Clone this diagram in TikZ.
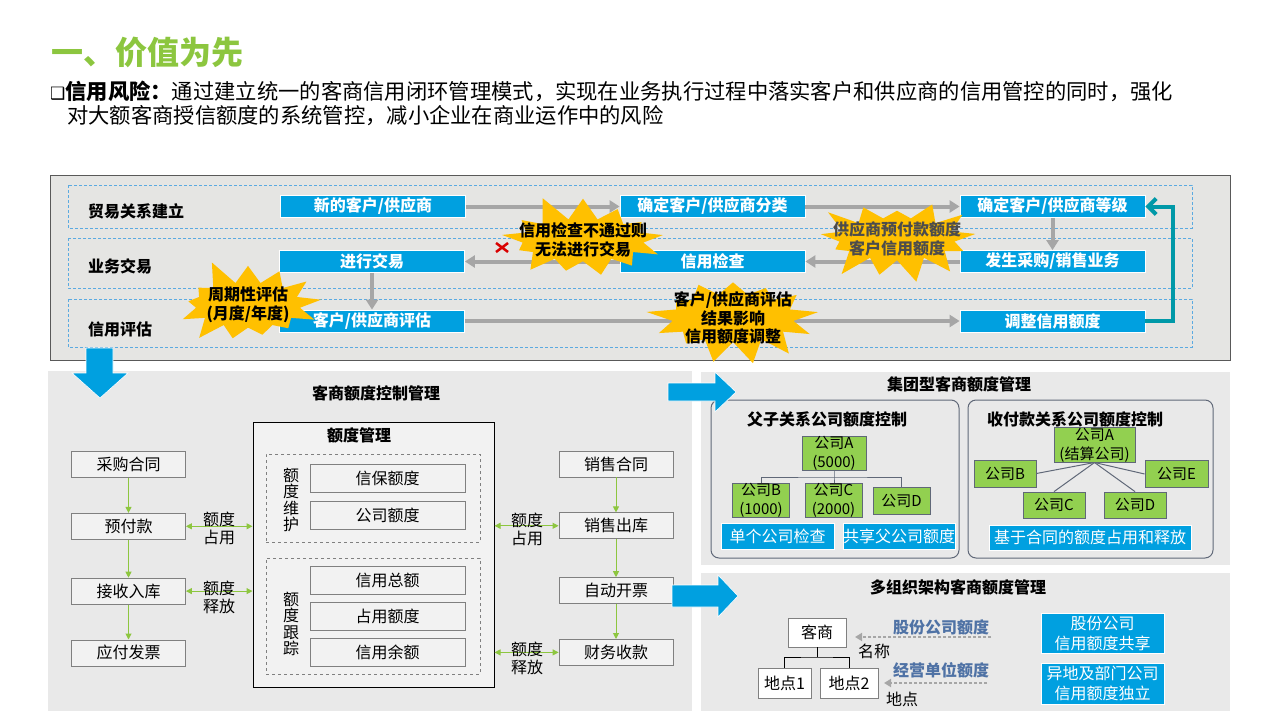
\documentclass[tikz,border=0pt]{standalone}
\usepackage{fontspec}
\setmainfont{Noto Sans CJK SC}
\newfontfamily\symfont{DejaVu Sans}
\usepackage{xcolor}
\usetikzlibrary{shapes.symbols, arrows.meta, positioning, calc}
\definecolor{cblue}{RGB}{0,160,224}
\definecolor{panelgray}{RGB}{229,229,227}
\definecolor{panelline}{RGB}{89,89,89}
\definecolor{softgray}{RGB}{233,233,233}
\definecolor{boxgray}{RGB}{242,242,242}
\definecolor{burstyellow}{RGB}{255,192,0}
\definecolor{leafgreen}{RGB}{146,208,80}
\definecolor{titlegreen}{RGB}{140,198,63}
\definecolor{arrowgray}{RGB}{166,166,166}
\definecolor{tealarrow}{RGB}{0,153,168}
\definecolor{lanedash}{RGB}{91,170,225}
\definecolor{labelblue}{RGB}{79,114,165}
\definecolor{linkgreen}{RGB}{141,198,63}
\definecolor{framegray}{RGB}{96,104,120}

\begin{document}
\begin{tikzpicture}[x=1pt, y=-1pt, node distance=35pt, font=\fontsize{16}{19}\selectfont]
\tikzstyle{flowbox} = [rectangle, fill=cblue, draw=white, line width=0.8pt, text=white, font=\fontsize{16}{19}\selectfont\bfseries, minimum width=185pt, minimum height=22pt, inner sep=0pt]
\tikzstyle{flow} = [draw=arrowgray, line width=4pt, -{Triangle[length=10pt,width=12pt]}]
\tikzstyle{feedback} = [draw=tealarrow, line width=4pt, line join=miter, -{Straight Barb[length=8pt,width=16pt]}]
\tikzstyle{burstnote} = [starburst, starburst points=13, starburst point height=27pt, fill=burstyellow, draw=none]
\tikzstyle{bursttext} = [align=center, inner sep=0pt, font=\fontsize{16}{18.5}\selectfont\bfseries]
\tikzstyle{lane} = [draw=lanedash, line width=0.8pt, dash pattern=on 3pt off 2pt]
\tikzstyle{lanename} = [anchor=west, inner sep=0pt, font=\fontsize{16}{19}\selectfont\bfseries]
\tikzstyle{docbox} = [rectangle, fill=boxgray, draw=gray, line width=0.8pt, minimum width=114pt, minimum height=26pt, inner sep=0pt]
\tikzstyle{quotabox} = [rectangle, fill=boxgray, draw=gray, line width=0.8pt, minimum width=155pt, minimum height=28pt, inner sep=0pt]
\tikzstyle{link} = [draw=linkgreen, line width=1pt, -{Triangle[length=6pt,width=6pt]}]
\tikzstyle{duallink} = [draw=linkgreen, line width=1pt, {Triangle[length=6pt,width=6pt]}-{Triangle[length=6pt,width=6pt]}]
\tikzstyle{sidelabel} = [align=center, inner sep=0pt, font=\fontsize{16}{18}\selectfont]
\tikzstyle{company} = [rectangle, fill=leafgreen, draw=framegray, line width=0.8pt, minimum height=27pt, inner sep=0pt, align=center, font=\fontsize{15}{19}\selectfont]
\tikzstyle{tagbox} = [rectangle, fill=cblue, draw=white, line width=0.8pt, text=white, inner sep=0pt, align=center, font=\fontsize{16}{20}\selectfont]
\tikzstyle{tree} = [draw=framegray, line width=1pt]
\tikzstyle{hint} = [draw=arrowgray, line width=2pt, dash pattern=on 3pt off 2pt, -{Triangle[length=7pt,width=8pt]}]
\tikzstyle{bigarrow} = [fill=cblue, draw=white, line width=0.6pt]

\useasboundingbox (0,0) rectangle (1280,720);

% heading
\node (title) [anchor=west, inner sep=0pt, text=titlegreen, font=\fontsize{32}{38}\selectfont\bfseries] at (51,52) {一、价值为先};
\node (intro1) [anchor=west, inner sep=0pt, font=\fontsize{21.3}{25}\selectfont] at (50,91) {{\symfont\fontsize{17}{20}\selectfont ❑}\textbf{信用风险：}通过建立统一的客商信用闭环管理模式，实现在业务执行过程中落实客户和供应商的信用管控的同时，强化};
\node (intro2) [anchor=west, inner sep=0pt, font=\fontsize{21.3}{25}\selectfont] at (67,116) {对大额客商授信额度的系统管控，减小企业在商业运作中的风险};

% credit loop panel
\draw [fill=panelgray, draw=panelline, line width=1pt] (50,175) rectangle (1230,360);
\draw [lane] (68,185) rectangle (1192,228);
\draw [lane] (68,238) rectangle (1192,288);
\draw [lane] (68,299) rectangle (1192,347);
\node (lane1) [lanename] at (88,211) {贸易关系建立};
\node (lane2) [lanename] at (88,266) {业务交易};
\node (lane3) [lanename] at (88,329) {信用评估};

\node (newcs) [flowbox] at (373,206.5) {新的客户/供应商};
\node (classify) [flowbox] at (712.5,206.5) {确定客户/供应商分类};
\node (grade) [flowbox] at (1052.5,206.5) {确定客户/供应商等级};
\node (trade) [flowbox] at (372,261.5) {进行交易};
\node (check) [flowbox] at (712.5,261.5) {信用检查};
\node (business) [flowbox] at (1052.5,261.5) {发生采购/销售业务};
\node (evaluate) [flowbox] at (372,321) {客户/供应商评估};
\node (adjust) [flowbox] at (1052.5,321) {调整信用额度};

\draw [flow] (newcs) -- (classify);
\draw [flow] (classify) -- (grade);
\draw [flow] (grade) -- (business);
\draw [flow] (business) -- (check);
\draw [flow] (check) -- (trade);
\draw [flow] (trade) -- (evaluate);
\draw [flow] (evaluate) -- (adjust);
\draw [feedback] (adjust.east) -- ++(28,0) |- (grade.east);

\node (blocked) [burstnote, random starburst=11, inner xsep=43pt, inner ysep=15pt,
  label={[bursttext]center:信用检查不通过则\\无法进行交易}] at (583,240) {};
\node (limits) [burstnote, random starburst=23, inner xsep=41pt, inner ysep=15pt,
  label={[bursttext, text=black!70]center:供应商预付款额度\\客户信用额度}] at (897,239) {};
\node (period) [burstnote, random starburst=5, inner xsep=37pt, inner ysep=16pt,
  label={[bursttext]center:周期性评估\\(月度/年度)}] at (248,305) {};
\node (effect) [burstnote, random starburst=42, inner xsep=43pt, inner ysep=17pt,
  label={[bursttext]center:客户/供应商评估\\结果影响\\信用额度调整}] at (733,318) {};
\draw [red!85!black, line width=2.5pt] (496,243) -- (508,252) (496,252) -- (508,243);

% quota control panel
\fill [softgray] (48,371) rectangle (692,711);
\draw [bigarrow] (86,348) -- (113,348) -- (113,373) -- (128,373) -- (100,398) -- (72,373) -- (86,373) -- cycle;
\node (ctrltitle) [font=\fontsize{16}{19}\selectfont\bfseries] at (376,393) {客商额度控制管理};

\node (purchase) [docbox] at (128.5,464.5) {采购合同};
\node (prepay) [docbox, below=35pt of purchase] {预付款};
\node (receive) [docbox, below=38pt of prepay] {接收入库};
\node (payinv) [docbox, below=35pt of receive] {应付发票};
\node (salecon) [docbox] at (616,464) {销售合同};
\node (shipout) [docbox, below=35pt of salecon] {销售出库};
\node (invoice) [docbox, below=38pt of shipout] {自动开票};
\node (collect) [docbox, below=35pt of invoice] {财务收款};

\node (quota) [rectangle, fill=boxgray, draw=black, line width=1pt, minimum width=241pt, minimum height=265pt] at (373.5,554.5) {};
\node (quotatitle) [font=\fontsize{16}{19}\selectfont\bfseries] at (359,435) {额度管理};
\node (maintain) [rectangle, draw=gray, dashed, minimum width=214pt, minimum height=88pt] at (373,498) {};
\node (track) [rectangle, draw=gray, dashed, minimum width=214pt, minimum height=116pt] at (373,616) {};
\node (maintainname) [align=center, inner sep=0pt, font=\fontsize{16}{16.5}\selectfont] at (291,500) {额\\度\\维\\护};
\node (trackname) [align=center, inner sep=0pt, font=\fontsize{16}{16.5}\selectfont] at (291,624) {额\\度\\跟\\踪};
\node (guarantee) [quotabox] at (387.5,478.5) {信保额度};
\node (companyq) [quotabox] at (387.5,515) {公司额度};
\node (total) [quotabox] at (387.5,580) {信用总额};
\node (occupied) [quotabox] at (387.5,616.5) {占用额度};
\node (balance) [quotabox] at (387.5,652.5) {信用余额};

\draw [link] (purchase) -- (prepay);
\draw [link] (prepay) -- (receive);
\draw [link] (receive) -- (payinv);
\draw [link] (salecon) -- (shipout);
\draw [link] (shipout) -- (invoice);
\draw [link] (invoice) -- (collect);
\draw [duallink] (prepay.east) -- (quota.west |- prepay.east);
\draw [duallink] (receive.east) -- (quota.west |- receive.east);
\draw [duallink] (quota.east |- shipout.west) -- (shipout.west);
\draw [duallink] (quota.east |- collect.west) -- (collect.west);
\node (takeL) [sidelabel] at (219,528) {额度\\占用};
\node (freeL) [sidelabel] at (219,597) {额度\\释放};
\node (takeR) [sidelabel] at (527,529) {额度\\占用};
\node (freeR) [sidelabel] at (527,658) {额度\\释放};

% group panel
\fill [softgray] (701,372) rectangle (1230,565);
\node (grouptitle) [font=\fontsize{16}{19}\selectfont\bfseries] at (959,384) {集团型客商额度管理};
\draw [framegray, line width=1pt, rounded corners=8pt] (711,400) rectangle (959,558);
\draw [framegray, line width=1pt, rounded corners=8pt] (968,400) rectangle (1213,558);
\node (parenttitle) [font=\fontsize{16}{19}\selectfont\bfseries] at (827,419) {父子关系公司额度控制};
\node (paytitle) [font=\fontsize{16}{19}\selectfont\bfseries] at (1075,419) {收付款关系公司额度控制};

\node (pA) [company, minimum width=64pt] at (834,453.5) {公司A\\(5000)};
\node (pB) [company, minimum width=57pt] at (761,500.5) {公司B\\(1000)};
\node (pC) [company, minimum width=57pt] at (833.5,500.5) {公司C\\(2000)};
\node (pD) [company, minimum width=57pt] at (901.5,500.5) {公司D};
\coordinate (pjoin) at (834,477);
\draw [tree] (pA.south) -- (pjoin) -- (pjoin |- pC.north);
\draw [tree] (pB.north) |- (pjoin) -| (pD.north);
\node (single) [tagbox, minimum width=113pt, minimum height=26pt] at (777.5,536) {单个公司检查};
\node (shared) [tagbox, minimum width=112pt, minimum height=26pt] at (899,536) {共享父公司额度};

\node (rA) [company, minimum width=81pt, minimum height=26pt] at (1094.5,445) {公司A\\(结算公司)};
\node (rB) [company, minimum width=62pt] at (1005,473.5) {公司B};
\node (rE) [company, minimum width=63pt] at (1176.5,474) {公司E};
\node (rC) [company, minimum width=62pt, minimum height=26pt] at (1054,505) {公司C};
\node (rD) [company, minimum width=62pt, minimum height=26pt] at (1135,505) {公司D};
\draw [tree] (rA.south) -- (rB.east);
\draw [tree] (rA.south) -- (rE.west);
\draw [tree] (rA.south) -- (rC.north);
\draw [tree] (rA.south) -- (rD.north);
\node (contract) [tagbox, minimum width=202pt, minimum height=25pt] at (1090,537.5) {基于合同的额度占用和释放};

% multi-org panel
\fill [softgray] (701,573) rectangle (1230,711);
\node (orgtitle) [font=\fontsize{16}{19}\selectfont\bfseries] at (958,587) {多组织架构客商额度管理};
\node (kehu) [rectangle, fill=white, draw=gray, line width=0.8pt, minimum width=58pt, minimum height=29pt] at (817,632.5) {客商};
\node (site1) [rectangle, fill=white, draw=gray, line width=0.8pt, minimum width=53pt, minimum height=30pt] at (784.5,683) {地点1};
\node (site2) [rectangle, fill=white, draw=gray, line width=0.8pt, minimum width=58pt, minimum height=30pt] at (849,683) {地点2};
\coordinate (kjoin) at (817,657);
\draw [black, line width=1pt] (kehu.south) -- (kjoin);
\draw [black, line width=1pt] (site1.north) |- (kjoin) -| (site2.north);
\node (stockq) [text=labelblue, font=\fontsize{16}{19}\selectfont\bfseries] at (941,627) {股份公司额度};
\node (unitq) [text=labelblue, font=\fontsize{16}{19}\selectfont\bfseries] at (941,670) {经营单位额度};
\coordinate (stockfrom) at (991,637);
\coordinate (stockto) at (855,637);
\coordinate (unitfrom) at (987,683);
\coordinate (unitto) at (884,683);
\draw [hint] (stockfrom) -- (stockto);
\draw [hint] (unitfrom) -- (unitto);
\node (namelbl) at (874,651) {名称};
\node (sitelbl) at (902,699) {地点};
\node (sharebox) [tagbox, minimum width=123pt, minimum height=40pt] at (1102.5,633) {股份公司\\信用额度共享};
\node (indepbox) [tagbox, minimum width=123pt, minimum height=41pt] at (1102.5,683.5) {异地及部门公司\\信用额度独立};

% linking arrows
\draw [bigarrow] (668,383) -- (715,383) -- (715,372) -- (736,392) -- (715,412) -- (715,401) -- (668,401) -- cycle;
\draw [bigarrow] (672,585) -- (718,585) -- (718,575) -- (738,596) -- (718,617) -- (718,607) -- (672,607) -- cycle;
\end{tikzpicture}
\end{document}
